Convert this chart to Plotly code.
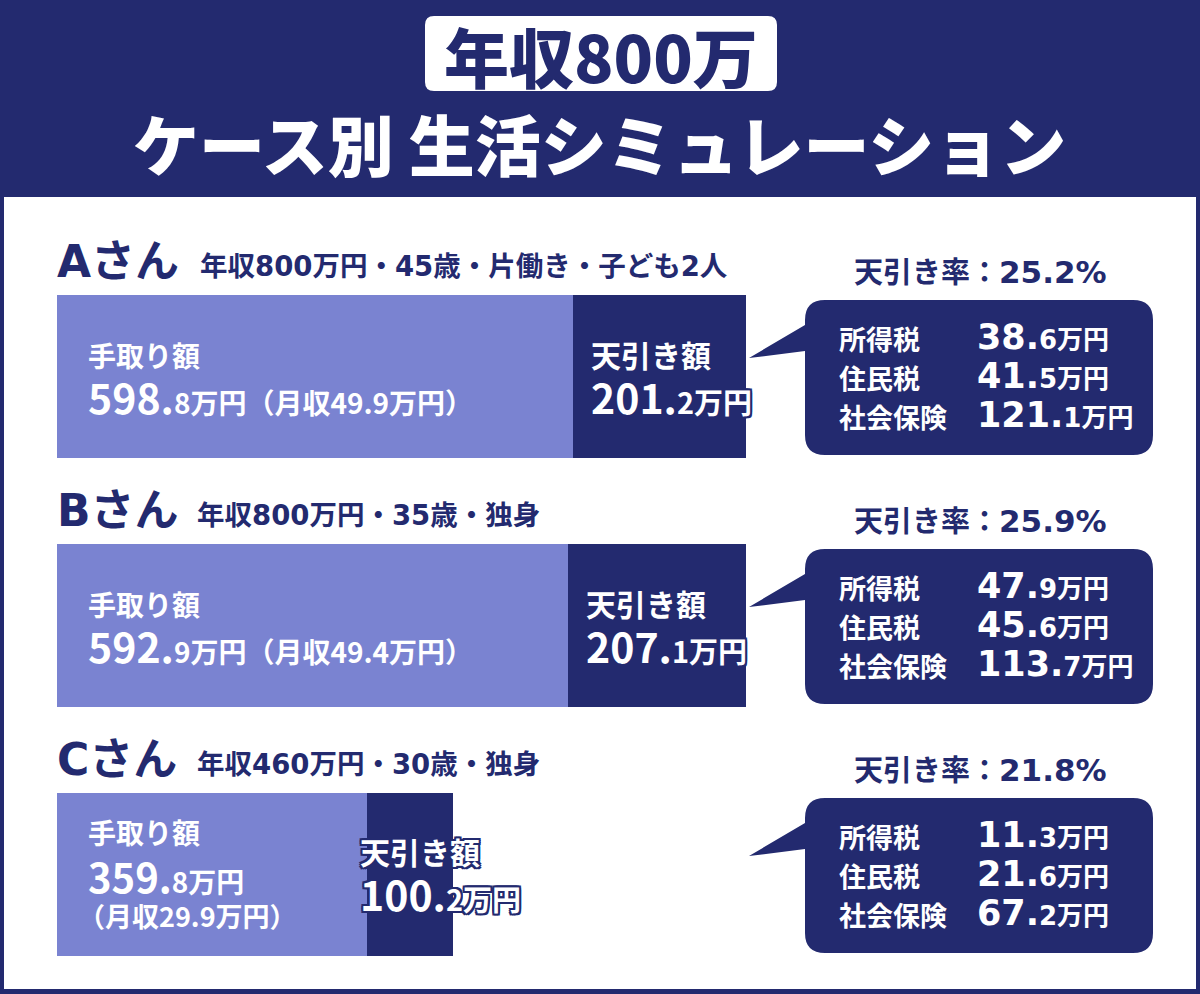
import plotly.graph_objects as go

# ---------------- data ----------------
cases = ["Aさん", "Bさん", "Cさん"]
profiles = ["年収800万円・45歳・片働き・子ども2人", "年収800万円・35歳・独身", "年収460万円・30歳・独身"]
takehome = [598.8, 592.9, 359.8]
deduction = [201.2, 207.1, 100.2]
monthly = [49.9, 49.4, 29.9]
rate = [25.2, 25.9, 21.8]
income_tax = [38.6, 47.9, 11.3]
resident_tax = [41.5, 45.6, 21.6]
social_ins = [121.1, 113.7, 67.2]
breakdown_labels = ["所得税", "住民税", "社会保険"]
title_top = "年収800万"
title_sub = "ケース別 生活シミュレーション"

# ---------------- style ----------------
NAVY = "#232a6f"
LIGHT = "#7a83d1"
WHITE = "#ffffff"
FONT = "Noto Sans CJK JP"
WIDE = "DejaVu Sans, Noto Sans CJK JP"
W, H = 1200, 994
K = 689 / 800          # px per 万円
X0 = 57                # bar left pixel
YC0, DY = 376, 249     # first bar centre pixel, spacing
BAR_H = 163

def P(x):
    return x / W

def Q(y):
    return 1 - y / H

def num(v, big, small, unit="万円", family=None):
    s = f"{v:.1f}"
    i, d = s.split(".")
    fam = f"font-family:{family};" if family else ""
    return (f"<span style='{fam}font-size:{big}px'>{i}.</span>"
            f"<span style='{fam}font-size:{small}px'>{d}</span>"
            f"<span style='font-size:{small}px'>{unit}</span>")

fig = go.Figure()

ys = list(range(len(cases)))
fig.add_trace(go.Bar(y=ys, x=takehome, orientation="h", marker=dict(color=LIGHT, line=dict(width=0)),
                     width=BAR_H / DY, hoverinfo="skip", showlegend=False))
fig.add_trace(go.Bar(y=ys, x=deduction, orientation="h", marker=dict(color=NAVY, line=dict(width=0)),
                     width=BAR_H / DY, hoverinfo="skip", showlegend=False))

shapes = []
ann = []

# white body
shapes.append(dict(type="rect", xref="paper", yref="paper", x0=P(4), x1=P(1196), y0=Q(989), y1=Q(197),
                   fillcolor=WHITE, line=dict(width=0), layer="below"))

def rrect_path(x0, y0, x1, y1, r, tail=None):
    pts = [f"M {P(x0 + r)},{Q(y0)}", f"L {P(x1 - r)},{Q(y0)}",
           f"Q {P(x1)},{Q(y0)} {P(x1)},{Q(y0 + r)}", f"L {P(x1)},{Q(y1 - r)}",
           f"Q {P(x1)},{Q(y1)} {P(x1 - r)},{Q(y1)}", f"L {P(x0 + r)},{Q(y1)}",
           f"Q {P(x0)},{Q(y1)} {P(x0)},{Q(y1 - r)}"]
    if tail:
        (ta, tb, tx, ty) = tail
        pts += [f"L {P(x0)},{Q(tb)}", f"L {P(tx)},{Q(ty)}", f"L {P(x0)},{Q(ta)}"]
    pts += [f"L {P(x0)},{Q(y0 + r)}", f"Q {P(x0)},{Q(y0)} {P(x0 + r)},{Q(y0)}", "Z"]
    return " ".join(pts)

# title box
shapes.append(dict(type="path", xref="paper", yref="paper", path=rrect_path(425, 16, 777, 91, 9),
                   fillcolor=WHITE, line=dict(width=0), layer="below"))
ann.append(dict(x=P(601), y=Q(55), xref="paper", yref="paper", text=title_top, showarrow=False,
                font=dict(family=FONT, size=65, color=NAVY, weight=900), xanchor="center", yanchor="middle"))
ann.append(dict(x=P(599), y=Q(142), xref="paper", yref="paper", text=title_sub, showarrow=False,
                font=dict(family=FONT, size=66, color=WHITE, weight=900), xanchor="center", yanchor="middle"))

head_x = [198, 195, 195]
dark_shift = [16, 16, -9]
shadow = (f"2px 0 0 {NAVY}, -2px 0 0 {NAVY}, 0 2px 0 {NAVY}, 0 -2px 0 {NAVY}, "
          f"2px 2px 0 {NAVY}, -2px -2px 0 {NAVY}, 2px -2px 0 {NAVY}, -2px 2px 0 {NAVY}")

for i, name in enumerate(cases):
    off = DY * i
    # headings
    ann.append(dict(x=P(55), y=Q(261 + off), xref="paper", yref="paper", text=name, showarrow=False,
                    font=dict(family=WIDE, size=44, color=NAVY, weight=700), xanchor="left", yanchor="middle"))
    ann.append(dict(x=P(head_x[i]), y=Q(266 + off), xref="paper", yref="paper", text=profiles[i], showarrow=False,
                    font=dict(family=WIDE, size=27.5, color=NAVY, weight=700), xanchor="left", yanchor="middle"))

    # labels inside the take-home segment
    wf = dict(family=FONT, color=WHITE, weight=700)
    if i < 2:
        ann.append(dict(x=0, y=i, xref="x", yref="y", xshift=29, yshift=21, text="手取り額", showarrow=False,
                        font=dict(wf, size=28), xanchor="left", yanchor="middle"))
        ann.append(dict(x=0, y=i, xref="x", yref="y", xshift=29, yshift=-20,
                        text=num(takehome[i], 41, 28) + f"<span style='font-size:28px'>（月収{monthly[i]:.1f}万円）</span>",
                        showarrow=False, font=dict(wf, size=28), xanchor="left", yanchor="middle"))
        ys_d = (22, -20)
    else:
        ann.append(dict(x=0, y=i, xref="x", yref="y", xshift=29, yshift=42, text="手取り額", showarrow=False,
                        font=dict(wf, size=28), xanchor="left", yanchor="middle"))
        ann.append(dict(x=0, y=i, xref="x", yref="y", xshift=29, yshift=-2, text=num(takehome[i], 40, 28),
                        showarrow=False, font=dict(wf, size=26), xanchor="left", yanchor="middle"))
        ann.append(dict(x=0, y=i, xref="x", yref="y", xshift=19, yshift=-41, text=f"（月収{monthly[i]:.1f}万円）",
                        showarrow=False, font=dict(wf, size=27), xanchor="left", yanchor="middle"))
        ys_d = (23, -19)
    # labels on the deduction segment
    ann.append(dict(x=takehome[i], y=i, xref="x", yref="y", xshift=dark_shift[i], yshift=ys_d[0], text="天引き額",
                    showarrow=False, font=dict(wf, size=30, shadow=shadow), xanchor="left", yanchor="middle"))
    ann.append(dict(x=takehome[i], y=i, xref="x", yref="y", xshift=dark_shift[i], yshift=ys_d[1],
                    text=num(deduction[i], 41, 29), showarrow=False, font=dict(wf, size=29, shadow=shadow),
                    xanchor="left", yanchor="middle"))

    # callout
    shapes.append(dict(type="path", xref="paper", yref="paper",
                       path=rrect_path(805, 300 + off, 1153, 455 + off, 20, tail=(325 + off, 351 + off, 749, 358 + off)),
                       fillcolor=NAVY, line=dict(width=0), layer="above"))
    ann.append(dict(x=P(980), y=Q(270 + off), xref="paper", yref="paper",
                    text=f"天引き率：<span style='font-family:DejaVu Sans;font-size:31px'>{rate[i]:.1f}%</span>",
                    showarrow=False,
                    font=dict(family=FONT, size=29, color=NAVY, weight=700), xanchor="center", yanchor="middle"))
    vals = [income_tax[i], resident_tax[i], social_ins[i]]
    for j, (lab, v) in enumerate(zip(breakdown_labels, vals)):
        yy = [338, 377, 416][j] + off
        ann.append(dict(x=P(837), y=Q(yy), xref="paper", yref="paper", text=lab, showarrow=False,
                        font=dict(family=FONT, size=27, color=WHITE, weight=700), xanchor="left", yanchor="middle"))
        ann.append(dict(x=P(975), y=Q(yy - 1), xref="paper", yref="paper",
                        text=num(v, 35, 26, family="DejaVu Sans"), showarrow=False,
                        font=dict(family=FONT, size=26, color=WHITE, weight=700), xanchor="left", yanchor="middle"))

fig.update_layout(
    width=W, height=H, autosize=False,
    margin=dict(l=0, r=0, t=0, b=0, pad=0),
    paper_bgcolor=NAVY, plot_bgcolor="rgba(0,0,0,0)",
    barmode="stack", bargap=0,
    xaxis=dict(range=[-X0 / K, (W - X0) / K], visible=False, fixedrange=True),
    yaxis=dict(range=[(H - YC0) / DY, -YC0 / DY], visible=False, fixedrange=True),
    shapes=shapes, annotations=ann, showlegend=False,
)

fig.write_html("out.html")
